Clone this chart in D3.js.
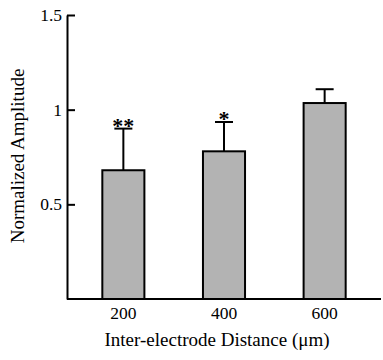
<!DOCTYPE html>
<html>
<head>
<meta charset="utf-8">
<script src="https://cdn.jsdelivr.net/npm/d3@7"></script>
<style>
    body { margin: 0; background: #fff; }
    text { font-family: "Liberation Serif", "Times New Roman", serif; fill: #000; }
    .axis path, .axis line { stroke: #000; stroke-width: 2; }
    .axis text { font-size: 17.5px; }
</style>
</head>
<body>
<script>
    var distances = ["200", "400", "600"];
    var amplitudes = [0.68, 0.78, 1.035];
    var errors = [0.22, 0.155, 0.073];
    var stars = ["**", "*", ""];
    var yTicks = [0.5, 1, 1.5];

    const CANVAS = { WIDTH: 383, HEIGHT: 360 };
    var plot = { left: 67, right: 381, top: 15, bottom: 299 };

    var svg = d3.select("body").append("svg")
        .attr("width", CANVAS.WIDTH)
        .attr("height", CANVAS.HEIGHT);

    var x = d3.scaleBand()
        .domain(distances)
        .range([plot.left, plot.right])
        .paddingInner(0.582)
        .paddingOuter(0.351);

    var y = d3.scaleLinear()
        .domain([0, 1.5])
        .range([plot.bottom, plot.top]);

    function cx(d) { return x(d) + x.bandwidth() / 2; }

    // bars
    svg.append("g")
        .selectAll("rect")
        .data(distances)
        .enter()
        .append("rect")
        .attr("x", function(d) { return x(d); })
        .attr("y", function(d, i) { return y(amplitudes[i]); })
        .attr("width", x.bandwidth())
        .attr("height", function(d, i) { return y(0) - y(amplitudes[i]); })
        .attr("fill", "#b3b3b3")
        .attr("stroke", "#000")
        .attr("stroke-width", 2);

    // error bars (upper only)
    var err = svg.append("g")
        .attr("stroke", "#000")
        .attr("stroke-width", 2);

    err.selectAll("line.v")
        .data(distances)
        .enter()
        .append("line")
        .attr("class", "v")
        .attr("x1", cx)
        .attr("x2", cx)
        .attr("y1", function(d, i) { return y(amplitudes[i]); })
        .attr("y2", function(d, i) { return y(amplitudes[i] + errors[i]); });

    err.selectAll("line.cap")
        .data(distances)
        .enter()
        .append("line")
        .attr("class", "cap")
        .attr("x1", function(d) { return cx(d) - 9; })
        .attr("x2", function(d) { return cx(d) + 9; })
        .attr("y1", function(d, i) { return y(amplitudes[i] + errors[i]); })
        .attr("y2", function(d, i) { return y(amplitudes[i] + errors[i]); });

    // significance stars
    svg.append("g")
        .selectAll("text")
        .data(distances)
        .enter()
        .append("text")
        .attr("x", cx)
        .attr("y", function(d, i) { return y(amplitudes[i] + errors[i]) + 4; })
        .attr("text-anchor", "middle")
        .style("font-size", "22px")
        .style("font-weight", "bold")
        .text(function(d, i) { return stars[i]; });

    // y axis, ticks pointing inwards
    var yAxis = svg.append("g")
        .attr("class", "axis")
        .attr("transform", "translate(" + plot.left + ",0)")
        .call(d3.axisLeft(y)
            .tickValues(yTicks)
            .tickFormat(function(d) { return String(d); })
            .tickSizeInner(-8)
            .tickSizeOuter(0));
    yAxis.attr("font-family", null).attr("font-size", null);
    yAxis.selectAll(".tick text").attr("x", -5);

    // x axis, no tick marks
    var xAxis = svg.append("g")
        .attr("class", "axis")
        .attr("transform", "translate(0," + plot.bottom + ")")
        .call(d3.axisBottom(x).tickSize(0).tickPadding(8));
    xAxis.attr("font-family", null).attr("font-size", null);
    xAxis.select(".domain").attr("d", "M" + plot.left + ",0H" + plot.right);

    // axis titles
    svg.append("text")
        .attr("x", 217)
        .attr("y", 346)
        .attr("text-anchor", "middle")
        .style("font-size", "19px")
        .text("Inter-electrode Distance (\u03bcm)");

    svg.append("text")
        .attr("transform", "translate(24,156) rotate(-90)")
        .attr("text-anchor", "middle")
        .style("font-size", "19px")
        .text("Normalized Amplitude");
</script>
</body>
</html>
